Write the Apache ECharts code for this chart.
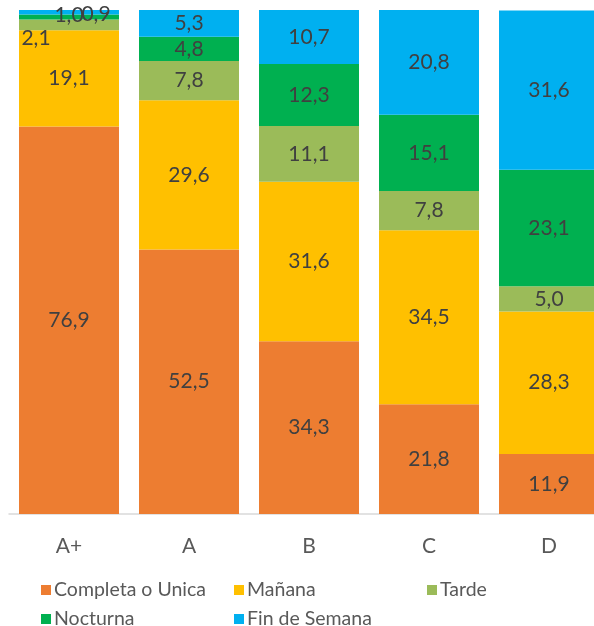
<!DOCTYPE html>
<html><head><meta charset="utf-8">
<script src="https://cdn.jsdelivr.net/npm/echarts@6/dist/echarts.min.js"></script>
<style>html,body{margin:0;padding:0;background:#fff;overflow:hidden}#c{width:609px;height:626px}</style>
</head><body><div id="c"></div>
<script>
const categories = ['A+', 'A', 'B', 'C', 'D'];
const seriesNames = ['Completa o Unica', 'Mañana', 'Tarde', 'Nocturna', 'Fin de Semana'];
const completa = [76.9, 52.5, 34.3, 21.8, 11.9];
const manana = [19.1, 29.6, 31.6, 34.5, 28.3];
const tarde = [2.1, 7.8, 11.1, 7.8, 5.0];
const nocturna = [1.0, 4.8, 12.3, 15.1, 23.1];
const finSemana = [0.9, 5.3, 10.7, 20.8, 31.6];

const colors = ['#ED7D31', '#FFC000', '#9BBB59', '#00B050', '#00B0F0'];
const FONT = 'Lato, "Open Sans", sans-serif';
const values = [completa, manana, tarde, nocturna, finSemana];
// label offsets for crowded segments (series index -> category index -> [dx, dy])
const offsets = {2: {0: [-33, 13]}, 3: {0: [0, -2]}, 4: {0: [27, 2]}};

const series = values.map((arr, si) => ({
  name: seriesNames[si],
  type: 'bar',
  stack: 'total',
  barWidth: 100,
  itemStyle: {color: colors[si]},
  data: arr.map((v, ci) => {
    const d = {value: v};
    if (offsets[si] && offsets[si][ci]) d.label = {offset: offsets[si][ci]};
    return d;
  }),
  label: {
    show: true, position: 'inside', fontFamily: FONT, fontSize: 21, color: '#404040',
    formatter: p => p.value.toFixed(1).replace('.', ',')
  }
}));

const legendPos = [[36, 575], [229, 575], [422, 575], [36, 604], [229, 604]];
const legends = seriesNames.map((n, i) => ({
  data: [n], left: legendPos[i][0], top: legendPos[i][1],
  icon: 'rect', itemWidth: 10, itemHeight: 10, itemGap: 3,
  textStyle: {fontFamily: FONT, fontSize: 19.5, color: '#595959', padding: [0, 0, 0, -2]},
  selectedMode: false
}));

const chart = echarts.init(document.getElementById('c'));
chart.setOption({
  animation: false,
  color: colors,
  grid: {left: 9, top: 10, right: 0, bottom: 112, containLabel: false},
  xAxis: {
    type: 'category', data: categories,
    axisLine: {lineStyle: {color: '#D9D9D9', width: 1.5}},
    axisTick: {show: false},
    axisLabel: {fontFamily: FONT, fontSize: 21, color: '#595959', margin: 22}
  },
  yAxis: {type: 'value', min: 0, max: 100, show: false, splitLine: {show: false}},
  legend: legends,
  series: series
});
</script></body></html>
